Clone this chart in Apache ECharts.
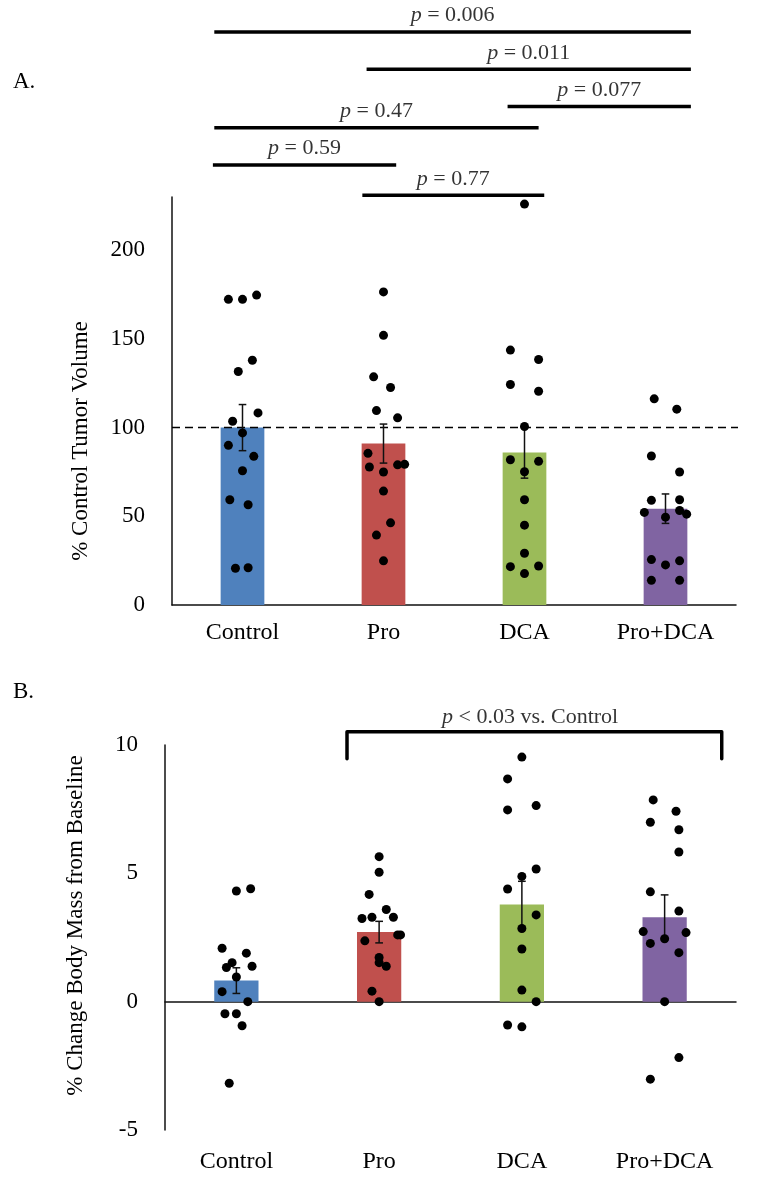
<!DOCTYPE html>
<html><head><meta charset="utf-8">
<script src="https://cdn.jsdelivr.net/npm/echarts@6/dist/echarts.min.js"></script>
<style>html,body{margin:0;padding:0;background:#fff}#c{width:771px;height:1186px}</style>
</head><body><div id="c"></div>
<script>
// ---------- data ----------
const categories = ['Control', 'Pro', 'DCA', 'Pro+DCA'];
const barColors = ['#4f81bd', '#c0504d', '#9bbb59', '#8064a2'];

// Panel A: % control tumor volume
const tumorMean = [100, 91, 86, 54.3];
const tumorSem = [13, 11, 14.5, 8.3];
const tumorControl = [172.3, 172.3, 174.7, 138, 131.6, 108.3, 103.6, 97, 90, 83.8, 75.7, 59.3, 56.5, 20.7, 21];
const tumorPro = [176.5, 152, 128.6, 122.6, 109.6, 105.5, 85.5, 77.8, 75, 79, 79.3, 64.2, 46.3, 39.4, 24.9];
const tumorDCA = [226, 143.7, 138.4, 124.3, 120.5, 100.6, 81.9, 81, 75.1, 59.3, 45, 29.2, 21.6, 22, 17.7];
const tumorProDCA = [116.2, 110.4, 84, 75, 59, 59.3, 52.2, 53.3, 51.2, 49.5, 25.6, 22.6, 24.9, 13.9, 13.9];
// horizontal spread of the dots (fraction of a category band)
const jitterAControl = [-0.10, 0, 0.10, 0.07, -0.03, 0.11, -0.07, 0, -0.10, 0.08, 0, -0.09, 0.04, -0.05, 0.04];
const jitterAPro = [0, 0, -0.07, 0.05, -0.05, 0.10, -0.11, -0.10, 0, 0.10, 0.15, 0, 0.05, -0.05, 0];
const jitterADCA = [0, -0.10, 0.10, -0.10, 0.10, 0, -0.10, 0.10, 0, 0, 0, 0, -0.10, 0.10, 0];
const jitterAProDCA = [-0.08, 0.08, -0.10, 0.10, -0.10, 0.10, -0.15, 0.10, 0.15, 0, -0.10, 0, 0.10, -0.10, 0.10];
const tumorTicks = [0, 50, 100, 150, 200];
const referenceLevel = 100;

// Panel A significance annotations
const sigALabels = ['= 0.006', '= 0.011', '= 0.077', '= 0.47', '= 0.59', '= 0.77'];
const sigAStart = [0.30, 1.38, 2.38, 0.30, 0.29, 1.35];
const sigAEnd = [3.68, 3.68, 3.68, 2.60, 1.59, 2.64];
const sigALevel = [323, 302, 281, 269, 248, 231];

// Panel B: % change body mass from baseline
const massMean = [0.82, 2.71, 3.79, 3.29];
const massSem = [0.5, 0.42, 0.9, 0.87];
const massControl = [4.31, 4.40, 2.08, 1.89, 1.52, 1.33, 1.38, 0.96, 0.39, 0.0, -0.47, -0.47, -0.94, -3.18];
const massPro = [5.65, 5.04, 4.18, 3.59, 3.24, 3.29, 3.29, 2.60, 2.60, 2.37, 1.72, 1.52, 1.38, 0.41, 0.0];
const massDCA = [9.53, 8.68, 7.47, 7.64, 5.17, 4.88, 4.39, 3.38, 2.85, 2.05, 0.45, 0.0, -0.91, -0.98];
const massProDCA = [7.86, 7.42, 6.99, 6.70, 5.83, 4.28, 3.53, 2.73, 2.69, 2.45, 2.27, 1.91, 0.0, -2.18, -3.02];
const jitterBControl = [0, 0.10, -0.10, 0.07, -0.03, -0.07, 0.11, 0, -0.10, 0.08, -0.08, 0, 0.04, -0.05];
const jitterBPro = [0, 0, -0.07, 0.05, -0.12, -0.05, 0.10, 0.13, 0.15, -0.10, 0, 0, 0.05, -0.05, 0];
const jitterBDCA = [0, -0.10, -0.10, 0.10, 0.10, 0, -0.10, 0.10, 0, 0, 0, 0.10, -0.10, 0];
const jitterBProDCA = [-0.08, 0.08, -0.10, 0.10, 0.10, -0.10, 0.10, -0.15, 0.15, 0, -0.10, 0.10, 0, 0.10, -0.10];
const massTicks = [-5, 0, 5, 10];

// Panel B bracket annotation
const sigBLabel = '< 0.03 vs. Control';
const sigBStart = 1.275, sigBEnd = 3.90, sigBTop = 10.52, sigBFoot = 9.46;

// ---------- chart ----------
const FONT = 'Liberation Serif';
const ink = '#000';
const pointsA = [tumorControl, tumorPro, tumorDCA, tumorProDCA];
const jitA = [jitterAControl, jitterAPro, jitterADCA, jitterAProDCA];
const pointsB = [massControl, massPro, massDCA, massProDCA];
const jitB = [jitterBControl, jitterBPro, jitterBDCA, jitterBProDCA];

function dots(groups, jit) {
  const out = [];
  groups.forEach((vals, i) => vals.forEach((v, j) => out.push([i + 0.5 + jit[i][j], v])));
  return out;
}
function errRender(params, api) {
  const x = api.value(0), m = api.value(1), s = api.value(2);
  const top = api.coord([x, m + s]), bot = api.coord([x, m - s]);
  const hw = api.size([1, 0])[0] * 0.027;
  const st = { stroke: '#111', lineWidth: 1.5 };
  return { type: 'group', children: [
    { type: 'line', shape: { x1: top[0], y1: top[1], x2: bot[0], y2: bot[1] }, style: st },
    { type: 'line', shape: { x1: top[0] - hw, y1: top[1], x2: top[0] + hw, y2: top[1] }, style: st },
    { type: 'line', shape: { x1: bot[0] - hw, y1: bot[1], x2: bot[0] + hw, y2: bot[1] }, style: st }
  ]};
}
const rich = { i: { fontStyle: 'italic', fontFamily: FONT, fontSize: 22, color: ink } };

const series = [
  { type: 'bar', xAxisIndex: 0, yAxisIndex: 0, data: tumorMean, barWidth: '31%',
    itemStyle: { color: p => barColors[p.dataIndex] }, z: 1 },
  { type: 'custom', xAxisIndex: 0, yAxisIndex: 0, renderItem: errRender,
    data: tumorMean.map((m, i) => [i, m, tumorSem[i]]), encode: { x: 0, y: 1 }, z: 3 },
  { type: 'line', xAxisIndex: 1, yAxisIndex: 0, data: [[0, referenceLevel], [4.13, referenceLevel]],
    symbol: 'none', clip: false, silent: true, lineStyle: { color: '#000', width: 1.5, type: [8, 5] }, z: 2 },
  { type: 'scatter', xAxisIndex: 1, yAxisIndex: 0, data: dots(pointsA, jitA), symbolSize: 9,
    itemStyle: { color: '#000', opacity: 1 }, z: 4 },
  { type: 'bar', xAxisIndex: 2, yAxisIndex: 1, data: massMean, barWidth: '31%',
    itemStyle: { color: p => barColors[p.dataIndex] }, z: 1 },
  { type: 'custom', xAxisIndex: 2, yAxisIndex: 1, renderItem: errRender,
    data: massMean.map((m, i) => [i, m, massSem[i]]), encode: { x: 0, y: 1 }, z: 3 },
  { type: 'scatter', xAxisIndex: 3, yAxisIndex: 1, data: dots(pointsB, jitB), symbolSize: 9,
    itemStyle: { color: '#000', opacity: 1 }, z: 4 },
  { type: 'line', xAxisIndex: 3, yAxisIndex: 1,
    data: [[sigBStart, sigBFoot], [sigBStart, sigBTop], [sigBEnd, sigBTop], [sigBEnd, sigBFoot]],
    symbol: 'none', clip: false, silent: true, lineStyle: { color: '#000', width: 3.5, join: 'round', cap: 'round' } },
  { type: 'scatter', xAxisIndex: 3, yAxisIndex: 1, data: [[(sigBStart + sigBEnd) / 2 - 0.03, sigBTop]],
    symbolSize: 1, clip: false, silent: true, itemStyle: { color: 'rgba(0,0,0,0)' },
    label: { show: true, position: 'top', distance: 3, formatter: '{i|p} ' + sigBLabel,
      fontFamily: FONT, fontSize: 22, color: ink, rich } }
];
sigALabels.forEach((lab, k) => {
  series.push({ type: 'line', xAxisIndex: 1, yAxisIndex: 0,
    data: [[sigAStart[k], sigALevel[k]], [sigAEnd[k], sigALevel[k]]],
    symbol: 'none', clip: false, silent: true, lineStyle: { color: '#000', width: 3.5 } });
  series.push({ type: 'scatter', xAxisIndex: 1, yAxisIndex: 0,
    data: [[(sigAStart[k] + sigAEnd[k]) / 2, sigALevel[k]]],
    symbolSize: 1, clip: false, silent: true, itemStyle: { color: 'rgba(0,0,0,0)' },
    label: { show: true, position: 'top', distance: 5, formatter: '{i|p} ' + lab,
      fontFamily: FONT, fontSize: 22, color: ink, rich } });
});

const axisText = { fontFamily: FONT, fontSize: 23, color: ink };
const catText = { fontFamily: FONT, fontSize: 24, color: ink };
const option = {
  animation: false,
  backgroundColor: '#fff',
  textStyle: { fontFamily: FONT },
  title: [
    { text: 'A.', left: 8, top: 65, textStyle: { fontFamily: FONT, fontSize: 23, fontWeight: 'normal', color: ink } },
    { text: 'B.', left: 8, top: 675, textStyle: { fontFamily: FONT, fontSize: 23, fontWeight: 'normal', color: ink } }
  ],
  grid: [
    { left: 172, top: 197, width: 564, height: 408 },
    { left: 165, top: 745, width: 571, height: 385 }
  ],
  xAxis: [
    { type: 'category', gridIndex: 0, data: categories,
      axisLine: { lineStyle: { color: '#111', width: 1.5 } }, axisTick: { show: false },
      axisLabel: Object.assign({ margin: 16 }, catText) },
    { type: 'value', gridIndex: 0, min: 0, max: 4, show: false },
    { type: 'category', gridIndex: 1, data: categories, position: 'bottom',
      axisLine: { show: false, onZero: false }, axisTick: { show: false },
      axisLabel: Object.assign({ margin: 20 }, catText) },
    { type: 'value', gridIndex: 1, min: 0, max: 4,
      axisLine: { show: true, onZero: true, lineStyle: { color: '#111', width: 1.5 } },
      axisTick: { show: false }, axisLabel: { show: false }, splitLine: { show: false } }
  ],
  yAxis: [
    { type: 'value', gridIndex: 0, min: 0, max: 230, interval: 50,
      axisLine: { show: true, lineStyle: { color: '#111', width: 1.5 } }, axisTick: { show: false },
      splitLine: { show: false },
      axisLabel: Object.assign({ margin: 27, formatter: v => tumorTicks.includes(v) ? String(v) : '' }, axisText),
      name: '% Control Tumor Volume', nameLocation: 'middle', nameGap: 80, nameRotate: 90,
      nameTextStyle: { fontFamily: FONT, fontSize: 23, color: ink, padding: [0, 80, 0, 0] } },
    { type: 'value', gridIndex: 1, min: -5, max: 10, interval: 5,
      axisLine: { show: true, lineStyle: { color: '#111', width: 1.5 } }, axisTick: { show: false },
      splitLine: { show: false },
      axisLabel: Object.assign({ margin: 27, formatter: v => massTicks.includes(v) ? String(v) : '' }, axisText),
      name: '% Change Body Mass from Baseline', nameLocation: 'middle', nameGap: 78, nameRotate: 90,
      nameTextStyle: { fontFamily: FONT, fontSize: 23, color: ink, padding: [0, 0, 0, 24] } }
  ],
  series
};
const chart = echarts.init(document.getElementById('c'), null, { renderer: 'canvas' });
chart.setOption(option);
</script></body></html>
